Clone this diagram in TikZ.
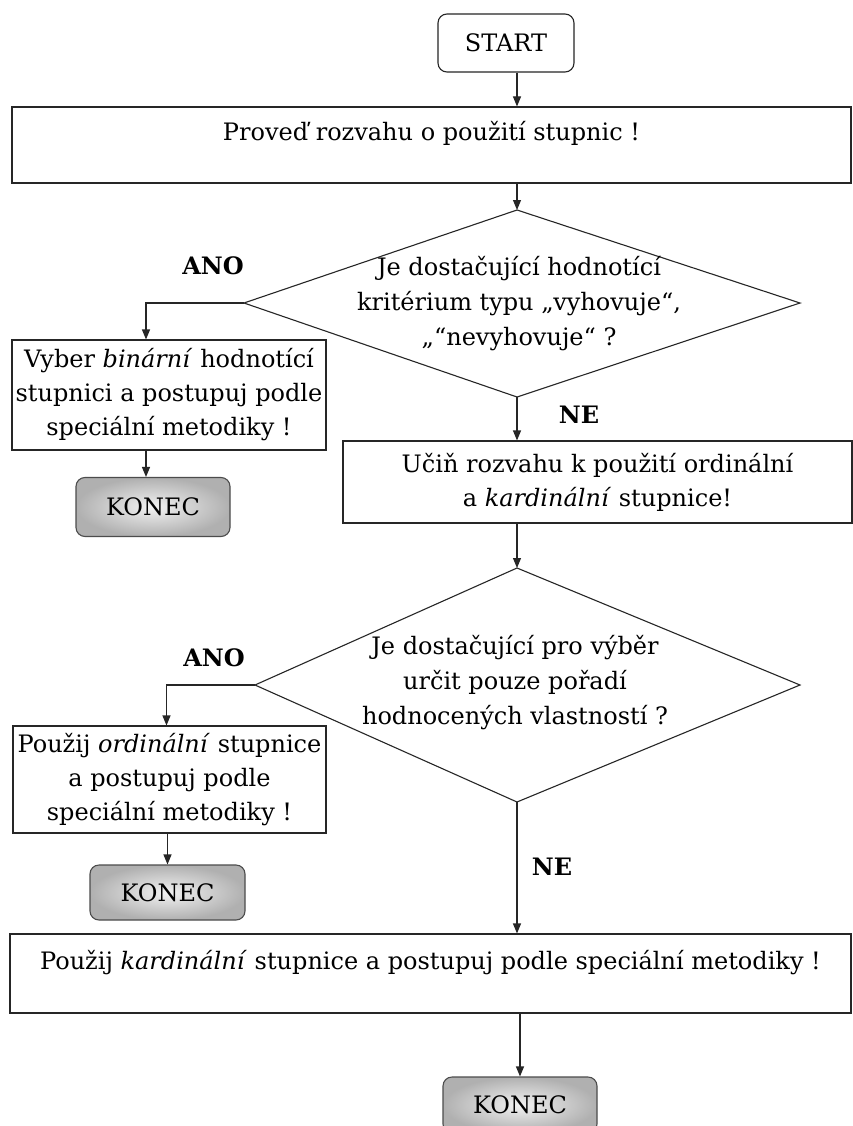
\documentclass[tikz,border=0pt]{standalone}
\usepackage{fontspec}
\setmainfont{DejaVu Serif}
\usetikzlibrary{arrows.meta,calc}
\tikzset{
  base/.style={draw=black!85, line width=1.1pt, font=\fontsize{24}{34}\selectfont},
  box/.style={base, rectangle, inner sep=0pt, align=center},
  startbox/.style={base, rounded corners=9pt, fill=white, inner sep=0pt, minimum width=136pt, minimum height=58pt},
  term/.style={base, draw=black!70, rounded corners=9pt, inner sep=0pt, shade, shading=radial, inner color=gray!10, outer color=gray!62},
  lbl/.style={font=\fontsize{24}{34}\selectfont\bfseries},
  dtext/.style={font=\fontsize{24}{35}\selectfont, align=center, inner sep=0pt},
  conn/.style={line width=1.1pt, draw=black!85, -{Triangle[length=10pt,width=8pt]}},
}
\begin{document}
\begin{tikzpicture}[x=1pt, y=-1pt]
\useasboundingbox[fill=white] (0,0) rectangle (853,1126);

% start
\node[startbox] (start) at (506,43) {START};

% first box
\node[box, minimum width=839pt, text height=34pt, text depth=42pt] (b1) at (431.5,145) {Proveď rozvahu o použití stupnic !};

% diamond 1
\coordinate (d1t) at (517,210);
\coordinate (d1r) at (800,303);
\coordinate (d1b) at (517,397);
\coordinate (d1l) at (244,303);
\draw[base] (d1t) -- (d1r) -- (d1b) -- (d1l) -- cycle;
\node[dtext] (d1) at (519,304) {Je dostačující hodnotící\\kritérium typu „vyhovuje“,\\„“nevyhovuje“ ?};

% left branch 1
\node[box, minimum width=314pt, minimum height=110pt] (b2) at (169,395) {Vyber \textit{binární} hodnotící\\stupnici a postupuj podle\\speciální metodiky !};
\node[term, minimum width=154pt, minimum height=59pt] (K1) at (153,507) {KONEC};

% box 3
\node[box, minimum width=509pt, minimum height=82pt] (b3) at (597.5,482) {Učiň rozvahu k použití ordinální\\a \textit{kardinální} stupnice!};

% diamond 2
\coordinate (d2t) at (517,568);
\coordinate (d2r) at (800,685);
\coordinate (d2b) at (517,802);
\coordinate (d2l) at (255,685);
\draw[base] (d2t) -- (d2r) -- (d2b) -- (d2l) -- cycle;
\node[dtext] (d2) at (515,683) {Je dostačující pro výběr\\určit pouze pořadí\\hodnocených vlastností ?};

% left branch 2
\node[box, minimum width=313pt, minimum height=107pt] (b4) at (169.5,779.5) {Použij \textit{ordinální} stupnice\\a postupuj podle\\speciální metodiky !};
\node[term, minimum width=155pt, minimum height=55pt] (K2) at (167.5,892.5) {KONEC};

% last box
\node[box, minimum width=841pt, text height=35pt, text depth=44pt] (b5) at (430.5,973.5) {Použij \textit{kardinální} stupnice a postupuj podle speciální metodiky !};
\node[term, minimum width=154pt, minimum height=56pt] (K3) at (520,1105) {KONEC};

% labels
\node[lbl] (ano1) at (213,266) {ANO};
\node[lbl] (ne1) at (579,415) {NE};
\node[lbl] (ano2) at (214,658) {ANO};
\node[lbl] (ne2) at (552,867) {NE};

% connectors
\draw[conn] (start.south -| d1t) -- (b1.north -| d1t);
\draw[conn] (b1.south -| d1t) -- (d1t);
\draw[conn] (d1l) -| ([xshift=-23pt]b2.north);
\draw[conn] ([xshift=-23pt]b2.south) -- ([xshift=-23pt]b2.south |- K1.north);
\draw[conn] (d1b) -- (d1b |- b3.north);
\draw[conn] (b3.south -| d2t) -- (d2t);
\draw[conn] (d2l) -| ([xshift=-3pt]b4.north);
\draw[conn] (K2.north |- b4.south) -- (K2.north);
\draw[conn] (d2b) -- (d2b |- b5.north);
\draw[conn] (b5.south -| K3.north) -- (K3.north);
\end{tikzpicture}
\end{document}
